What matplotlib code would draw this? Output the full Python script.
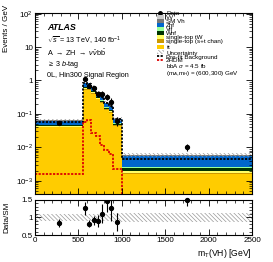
import numpy as np
import matplotlib
matplotlib.use('Agg')
import matplotlib.pyplot as plt
from matplotlib.patches import Patch
from matplotlib.lines import Line2D
from matplotlib.ticker import FuncFormatter, AutoMinorLocator, MultipleLocator, LogLocator

plt.rcParams['font.family'] = ['Liberation Sans', 'DejaVu Sans']
plt.rcParams['mathtext.fontset'] = 'custom'
plt.rcParams['mathtext.rm'] = 'Liberation Sans'
plt.rcParams['mathtext.it'] = 'Liberation Sans:italic'
plt.rcParams['mathtext.bf'] = 'Liberation Sans:bold'
plt.rcParams['hatch.linewidth'] = 0.5

# binning in m_T(VH) [GeV]
bin_edges = [0, 550, 600, 650, 700, 750, 800, 850, 900, 1000, 2500]

# backgrounds, events / GeV (bottom of the stack first)
ttbar = [0.040, 0.53, 0.52, 0.40, 0.27, 0.21, 0.13, 0.11, 0.043, 0.0016]
stop_st = [0.0015, 0.026, 0.026, 0.02, 0.014, 0.011, 0.007, 0.005, 0.002, 0.0001]
stop_tw = [0.0015, 0.026, 0.025, 0.02, 0.013, 0.01, 0.0065, 0.005, 0.002, 0.0003]
whf = [0.002, 0.045, 0.043, 0.033, 0.023, 0.018, 0.011, 0.009, 0.004, 0.0004]
vlf = [0.0005, 0.009, 0.009, 0.007, 0.005, 0.004, 0.0025, 0.002, 0.001, 0.0001]
zhf = [0.017, 0.19, 0.19, 0.15, 0.10, 0.08, 0.05, 0.04, 0.016, 0.003]
smvh = [0.0015, 0.026, 0.025, 0.02, 0.014, 0.01, 0.007, 0.005, 0.0025, 0.0003]
vv = [0.001, 0.017, 0.017, 0.013, 0.009, 0.007, 0.0045, 0.004, 0.0015, 0.0002]

unc_rel = [0.10, 0.09, 0.09, 0.09, 0.09, 0.10, 0.10, 0.10, 0.12, 0.12]
prefit = [0.057, 0.85, 0.80, 0.62, 0.43, 0.33, 0.21, 0.17, 0.068, 0.0045]
signal = [0.0016, 0.059, 0.064, 0.027, 0.022, 0.012, 0.0085, 0.0065, 0.0022, 0.0001]

data = [0.055, 1.10, 0.70, 0.61, 0.40, 0.385, 0.32, 0.23, 0.063, 0.0105]
data_err = [0.008, 0.16, 0.085, 0.08, 0.08, 0.095, 0.065, 0.07, 0.019, 0.0025]

stack = [ttbar, stop_st, stop_tw, whf, vlf, zhf, smvh, vv]
colors = ['#ffcc00', '#cc9900', '#ffff66', '#003300', '#99ff99', '#0066cc', '#777777', '#cccccc']
names = [r't$\bar{\mathrm{t}}$', 'single-top (s+t chan)', 'single-top tW', 'Whf', 'Vlf',
         'Zhf', 'SM Vh', 'VV']

edges = np.array(bin_edges, dtype=float)
centers = 0.5 * (edges[1:] + edges[:-1])
data = np.array(data)
data_err = np.array(data_err)
unc = np.array(unc_rel)

fig = plt.figure(figsize=(2.73, 2.62), dpi=100)
ax = fig.add_axes([0.128, 0.2595, 0.795, 0.691])
rax = fig.add_axes([0.128, 0.103, 0.795, 0.134])

# stacked backgrounds
base = np.full(len(data), 1e-7)
for vals, col in zip(stack, colors):
    top = base + np.array(vals)
    ax.stairs(top, edges, baseline=base, fill=True, facecolor=col, edgecolor='none', lw=0)
    base = top
total = base

hatch = '\\' * 8
ax.stairs(total * (1 + unc), edges, baseline=total * (1 - unc), fill=True,
          facecolor='none', edgecolor='#999999', hatch=hatch, lw=0)
ax.stairs(prefit, edges, baseline=None, color='black', ls=(0, (1.2, 0.8)), lw=1.3)
ax.stairs(signal, edges, baseline=None, color='#dd0000', ls=(0, (1.2, 0.8)), lw=1.3)
ax.errorbar(centers, data, yerr=data_err, fmt='o', color='black', ms=2.8, lw=0.8,
            capsize=0, zorder=5)

ax.set_yscale('log')
ax.set_ylim(4e-4, 105)
ax.set_xlim(0, 2500)


def log_fmt(v, pos):
    if abs(v - 10) < 1e-9:
        return '10'
    if abs(v - 1) < 1e-9:
        return '1'
    return r'$10^{%d}$' % int(round(np.log10(v)))


ax.yaxis.set_major_locator(LogLocator(base=10, numticks=10))
ax.yaxis.set_minor_locator(LogLocator(base=10, subs=np.arange(2, 10), numticks=20))
ax.yaxis.set_major_formatter(FuncFormatter(log_fmt))
ax.tick_params(labelbottom=False)

# ratio panel
ratio = data / total
ratio_err = data_err / total
rax.stairs(1 + unc, edges, baseline=1 - unc, fill=True, facecolor='none',
           edgecolor='#999999', hatch=hatch, lw=0)
rax.errorbar(centers, ratio, yerr=ratio_err, fmt='o', color='black', ms=2.8, lw=0.8,
             capsize=0, zorder=5)
off = ratio > 1.5
rax.plot(centers[off], np.full(off.sum(), 1.5), 'o', color='black', ms=2.8,
         clip_on=False, zorder=6)
rax.set_xlim(0, 2500)
rax.set_ylim(0.5, 1.5)
rax.yaxis.set_major_locator(MultipleLocator(0.5))
rax.yaxis.set_minor_locator(MultipleLocator(0.1))
rax.yaxis.set_major_formatter(FuncFormatter(lambda v, p: '%g' % v))

for a in (ax, rax):
    a.xaxis.set_major_locator(MultipleLocator(500))
    a.xaxis.set_minor_locator(AutoMinorLocator(5))
    a.tick_params(which='both', direction='in', top=True, right=True, labelsize=5.8, pad=1.5)
    a.tick_params(which='major', length=4, width=0.6)
    a.tick_params(which='minor', length=2, width=0.5)
    for s in a.spines.values():
        s.set_linewidth(0.8)

ax.set_ylabel('Events / GeV', loc='top', fontsize=5.8)
ax.yaxis.set_label_coords(-0.115, 1.045)
rax.set_ylabel('Data/SM', fontsize=5.8)
rax.yaxis.set_label_coords(-0.115, 0.5)
rax.set_xlabel(r'm$_{\mathrm{T}}$(VH) [GeV]', loc='right', fontsize=6.2)
rax.xaxis.set_label_coords(1.0, -0.33)

# ATLAS labels
ax.text(0.055, 0.92, 'ATLAS', transform=ax.transAxes, fontsize=6.4, fontweight='bold',
        style='italic', va='center')
ax.text(0.055, 0.848, r'$\sqrt{s}$ = 13 TeV, 140 fb$^{-1}$', transform=ax.transAxes,
        fontsize=5.2, va='center')
ax.text(0.055, 0.782, r'A $\rightarrow$ ZH $\rightarrow$ $\nu\bar{\nu}$b$\bar{\mathrm{b}}$',
        transform=ax.transAxes, fontsize=5.2, va='center')
ax.text(0.055, 0.718, r'$\geq$ 3 $b$-tag', transform=ax.transAxes, fontsize=5.2, va='center')
ax.text(0.055, 0.652, '0L, Hin300 Signal Region', transform=ax.transAxes, fontsize=5.2,
        va='center')

# legend
handles = [Line2D([], [], marker='o', color='black', ls='none', ms=2.5)]
labels = ['Data']
for col, name in list(zip(colors, names))[::-1]:
    handles.append(Patch(facecolor=col, edgecolor='none'))
    labels.append(name)
handles += [Patch(facecolor='none', edgecolor='#999999', hatch=hatch, lw=0),
            Line2D([], [], color='black', ls=(0, (1.2, 0.8)), lw=1.3),
            Line2D([], [], color='#dd0000', ls=(0, (1.2, 0.8)), lw=1.3),
            Patch(color='none'), Patch(color='none')]
labels += ['Uncertainty', 'Pre-fit Background', '2HDM', r'bbA $\sigma$ = 4.5 fb',
           r'(m$_{A}$,m$_{H}$) = (600,300) GeV']
fig.legend(handles, labels, loc='upper left', bbox_to_anchor=(0.575, 0.958), frameon=False,
           fontsize=4.5, labelspacing=-0.2, handlelength=1.1, handleheight=0.6,
           handletextpad=0.35, borderpad=0, borderaxespad=0)

fig.savefig('out.png', dpi=100)
